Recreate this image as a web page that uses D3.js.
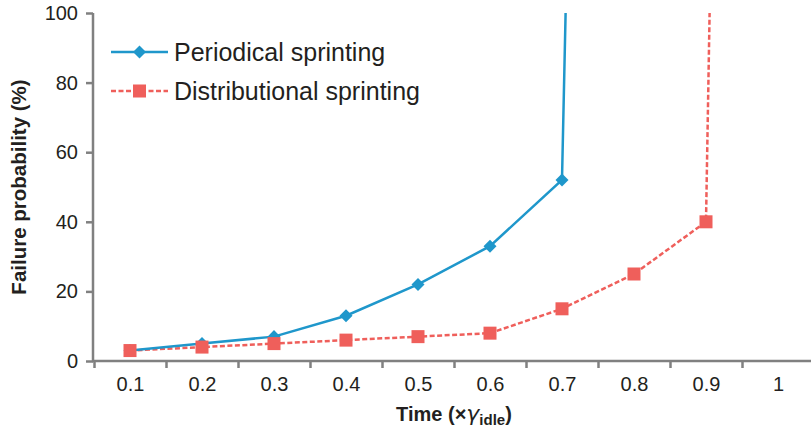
<!DOCTYPE html>
<html><head><meta charset="utf-8">
<script src="https://cdn.jsdelivr.net/npm/d3@7"></script>
<style>body{margin:0;background:#fff}svg{display:block}</style>
</head><body>
<svg id="c" width="811" height="434"></svg>
<script>
const xValues = [0.1,0.2,0.3,0.4,0.5,0.6,0.7,0.8,0.9,1];
const periodicalX = [0.1,0.2,0.3,0.4,0.5,0.6,0.7,0.705];
const periodical = [3,5,7,13,22,33,52,100];
const distributionalX = [0.1,0.2,0.3,0.4,0.5,0.6,0.7,0.8,0.9,0.905];
const distributional = [3,4,5,6,7,8,15,25,40,100];
const xTickBounds = [0.05,0.15,0.25,0.35,0.45,0.55,0.65,0.75,0.85,0.95,1.05];
const xTickLabels = ["0.1","0.2","0.3","0.4","0.5","0.6","0.7","0.8","0.9","1"];
const yTicks = [0,20,40,60,80,100];
const seriesNames = ["Periodical sprinting","Distributional sprinting"];

const svg = d3.select("#c");
const font = "'Liberation Sans', Arial, sans-serif";
const txt = "#231f20", axisCol = "#808080";
const blue = "#1f97cb", red = "#ef5f5b";

const x = d3.scaleLinear().domain([0.05,1.05]).range([94,814]);
const y = d3.scaleLinear().domain([0,100]).range([361,13]);

// y axis
const ya = svg.append("g").attr("transform","translate(93,0)")
  .call(d3.axisLeft(y).tickValues(yTicks).tickSize(7).tickPadding(8));
ya.select(".domain").attr("stroke",axisCol).attr("stroke-width",2.5).attr("d","M0,13V361");
ya.selectAll(".tick line").attr("stroke",axisCol).attr("stroke-width",2.5);
ya.selectAll(".tick text").attr("fill",txt).style("font-family",font).style("font-size","20px");

// x axis ticks
const xa = svg.append("g").attr("transform","translate(0,361)")
  .call(d3.axisBottom(x).tickValues(xTickBounds).tickSize(7).tickFormat(""));
xa.select(".domain").attr("stroke",axisCol).attr("stroke-width",2.5).attr("d","M92,0H811");
xa.selectAll(".tick line").attr("stroke",axisCol).attr("stroke-width",2.5);
const xl = svg.append("g").attr("transform","translate(0,361)")
  .call(d3.axisBottom(x).tickValues(xValues).tickSize(0).tickPadding(16).tickFormat((d,i)=>xTickLabels[i]));
xl.select(".domain").remove();
xl.selectAll(".tick text").attr("fill",txt).style("font-family",font).style("font-size","20px");

// titles
const xt = svg.append("text").attr("x",454).attr("y",421).attr("text-anchor","middle")
  .attr("fill",txt).style("font-family",font).style("font-size","20px").style("font-weight","bold");
xt.append("tspan").text("Time (×");
xt.append("tspan").text("γ").style("font-style","italic").style("font-family","'DejaVu Sans', sans-serif").style("font-weight","normal").style("font-size","22px");
xt.append("tspan").text("idle").attr("dy",4).style("font-size","15px");
xt.append("tspan").text(")").attr("dy",-4);

svg.append("text").attr("transform","translate(26,187) rotate(-90)").attr("text-anchor","middle")
  .attr("fill",txt).style("font-family",font).style("font-size","20.5px").style("font-weight","bold")
  .text("Failure probability (%)");

const line = d3.line().x(d=>x(d[0])).y(d=>y(d[1]));
const pData = periodicalX.map((v,i)=>[v,periodical[i]]);
const dData = distributionalX.map((v,i)=>[v,distributional[i]]);

svg.append("path").datum(dData).attr("d",line).attr("fill","none").attr("stroke",red)
  .attr("stroke-width",2.5).attr("stroke-dasharray","5,2.5");
svg.append("path").datum(pData).attr("d",line).attr("fill","none").attr("stroke",blue)
  .attr("stroke-width",2.5);

const diamond = d3.symbol().type(d3.symbolSquare).size(85);
svg.append("g").selectAll("path").data(pData.slice(0,7)).join("path")
  .attr("d",diamond()).attr("fill",blue)
  .attr("transform",d=>`translate(${x(d[0])},${y(d[1])}) rotate(45)`);
svg.append("g").selectAll("rect").data(dData.slice(0,9)).join("rect")
  .attr("x",d=>x(d[0])-6.5).attr("y",d=>y(d[1])-6.5).attr("width",13).attr("height",13).attr("fill",red);

// legend
const lg = svg.append("g");
lg.append("line").attr("x1",111).attr("x2",168).attr("y1",52).attr("y2",52).attr("stroke",blue).attr("stroke-width",2.5);
lg.append("path").attr("d",diamond()).attr("fill",blue).attr("transform","translate(139.5,52) rotate(45)");
lg.append("line").attr("x1",111).attr("x2",168).attr("y1",91).attr("y2",91).attr("stroke",red).attr("stroke-width",2.5).attr("stroke-dasharray","5,2.5");
lg.append("rect").attr("x",133).attr("y",84.5).attr("width",13).attr("height",13).attr("fill",red);
lg.selectAll("text").data(seriesNames).join("text")
  .attr("x",174).attr("y",(d,i)=>61+i*39).attr("fill",txt)
  .style("font-family",font).style("font-size","25px").text(d=>d);
</script>
</body></html>
